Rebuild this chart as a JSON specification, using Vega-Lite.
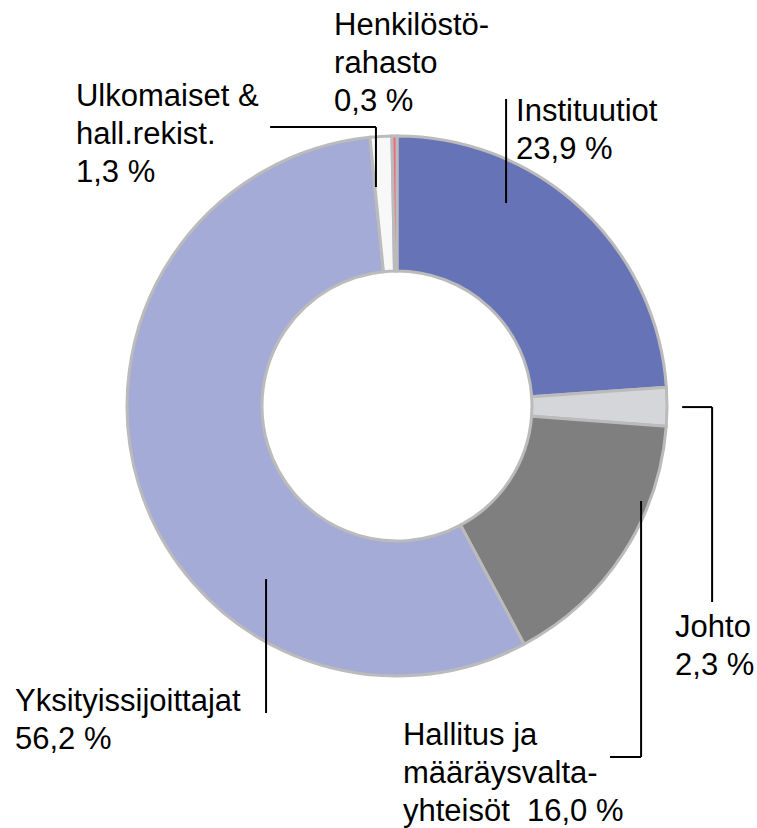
{
  "$schema": "https://vega.github.io/schema/vega-lite/v6.json",
  "width": 757,
  "height": 828,
  "padding": 0,
  "autosize": {"type": "none"},
  "background": "#ffffff",
  "config": {"view": {"stroke": null}, "font": "Liberation Sans"},
  "datasets": {
    "slices": [
      {"group": "Instituutiot", "share": 23.9, "idx": 1},
      {"group": "Johto", "share": 2.3, "idx": 2},
      {"group": "Hallitus ja määräysvaltayhteisöt", "share": 16.0, "idx": 3},
      {"group": "Yksityissijoittajat", "share": 56.2, "idx": 4},
      {"group": "Ulkomaiset & hall.rekist.", "share": 1.3, "idx": 5},
      {"group": "Henkilöstörahasto", "share": 0.3, "idx": 6}
    ],
    "labels": [
      {"text": "Henkilöstö-\nrahasto\n0,3 %", "u": -23.3, "v": 137.4},
      {"text": "Ulkomaiset &\nhall.rekist.\n1,3 %", "u": -118.9, "v": 111.1},
      {"text": "Instituutiot\n23,9 %", "u": 44.1, "v": 105.4},
      {"text": "Johto\n2,3 %", "u": 103.0, "v": -85.7},
      {"text": "Hallitus ja\nmääräysvalta-\nyhteisöt\u00a0 16,0 %", "u": 2.2, "v": -125.6},
      {"text": "Yksityissijoittajat\n56,2 %", "u": -141.5, "v": -113.1}
    ],
    "lines": [
      {"u": -47.0, "u2": -7.8, "v": 103.3, "v2": 103.3},
      {"u": -7.8, "u2": -7.8, "v": 103.3, "v2": 81.1},
      {"u": 40.4, "u2": 40.4, "v": 113.7, "v2": 75.2},
      {"u": 105.6, "u2": 116.7, "v": -0.4, "v2": -0.4},
      {"u": 116.7, "u2": 116.7, "v": -0.4, "v2": -72.6},
      {"u": 90.4, "u2": 90.4, "v": -35.2, "v2": -130.0},
      {"u": 78.9, "u2": 90.4, "v": -130.0, "v2": -130.0},
      {"u": -48.5, "u2": -48.5, "v": -64.1, "v2": -113.7}
    ]
  },
  "layer": [
    {
      "data": {"name": "slices"},
      "mark": {"type": "arc", "innerRadius": 135, "outerRadius": 270, "stroke": "#BBBBBB", "strokeWidth": 3},
      "encoding": {
        "x": {"datum": 0, "type": "quantitative", "scale": {"domain": [-147.04, 133.33], "nice": false, "zero": false}, "axis": null},
        "y": {"datum": 0, "type": "quantitative", "scale": {"domain": [-156.3, 150.37], "nice": false, "zero": false}, "axis": null},
        "theta": {"field": "share", "type": "quantitative", "stack": true},
        "order": {"field": "idx", "type": "quantitative"},
        "color": {
          "field": "group",
          "type": "nominal",
          "legend": null,
          "scale": {
            "domain": ["Instituutiot", "Johto", "Hallitus ja määräysvaltayhteisöt", "Yksityissijoittajat", "Ulkomaiset & hall.rekist.", "Henkilöstörahasto"],
            "range": ["#6673B6", "#D5D6D9", "#7F7F7F", "#A3ABD6", "#F8F8F8", "#F0687A"]
          }
        }
      }
    },
    {
      "data": {"name": "lines"},
      "mark": {"type": "rule", "color": "#000000", "strokeWidth": 2},
      "encoding": {
        "x": {"field": "u", "type": "quantitative"},
        "x2": {"field": "u2"},
        "y": {"field": "v", "type": "quantitative"},
        "y2": {"field": "v2"}
      }
    },
    {
      "data": {"name": "labels"},
      "mark": {"type": "text", "align": "left", "baseline": "alphabetic", "fontSize": 31, "lineHeight": 38, "lineBreak": "\n", "color": "#000000", "font": "Liberation Sans"},
      "encoding": {
        "x": {"field": "u", "type": "quantitative"},
        "y": {"field": "v", "type": "quantitative"},
        "text": {"field": "text"}
      }
    }
  ]
}
